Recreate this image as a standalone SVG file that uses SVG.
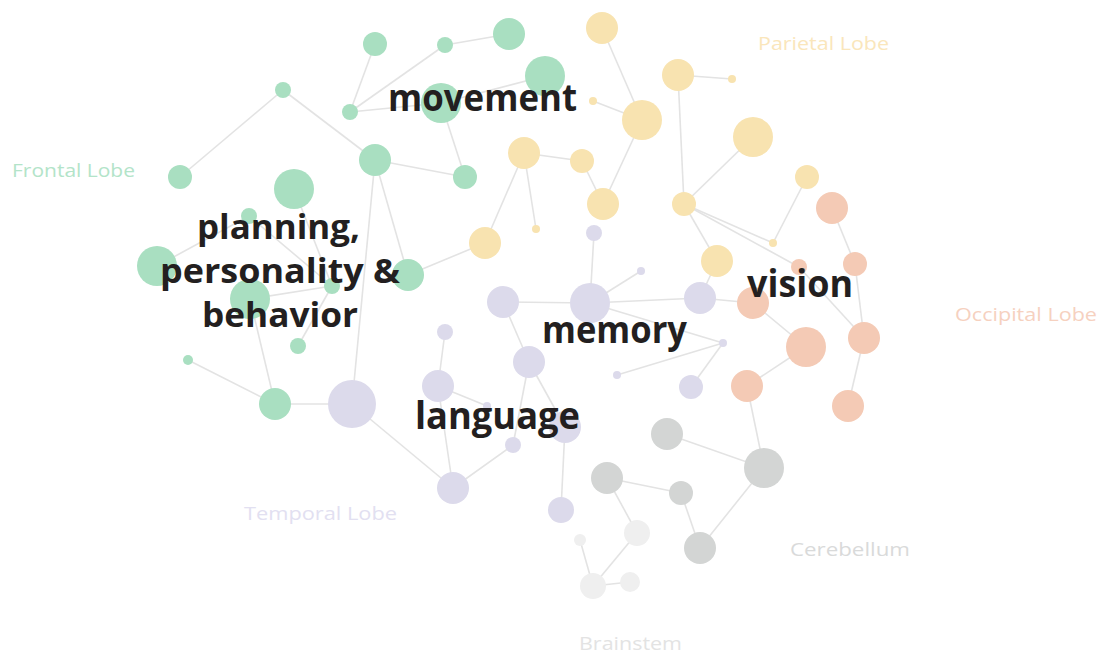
<svg xmlns="http://www.w3.org/2000/svg" width="1101" height="654" viewBox="0 0 1101 654">
<style>
.e{stroke:#e3e3e3;stroke-width:1.6;fill:none}
.g{fill:#a9dfc1}.p{fill:#dcdaeb}.y{fill:#f8e3b0}.o{fill:#f4cab5}.k{fill:#d3d5d4}.l{fill:#efefef}
.lobe{font-family:"Open Sans","Lato",sans-serif;font-size:19px}
.fn{font-family:"Open Sans","Roboto",sans-serif;font-weight:700;font-size:37px;fill:#231f20}
.fs{font-size:34px}
</style>
<rect width="1101" height="654" fill="#ffffff"/>
<g id="connectors" class="e">
<line x1="283" y1="90" x2="180" y2="177"/>
<line x1="283" y1="90" x2="375" y2="160"/>
<line x1="350" y1="112" x2="375" y2="44"/>
<line x1="350" y1="112" x2="445" y2="45"/>
<line x1="445" y1="45" x2="509" y2="34"/>
<line x1="350" y1="112" x2="441" y2="103"/>
<line x1="545" y1="76" x2="441" y2="103"/>
<line x1="441" y1="103" x2="465" y2="177"/>
<line x1="375" y1="160" x2="465" y2="177"/>
<line x1="375" y1="160" x2="408" y2="275"/>
<line x1="375" y1="160" x2="352" y2="404"/>
<line x1="294" y1="189" x2="332" y2="286"/>
<line x1="157" y1="266" x2="249" y2="216"/>
<line x1="249" y1="216" x2="332" y2="286"/>
<line x1="250" y1="299" x2="332" y2="286"/>
<line x1="332" y1="286" x2="298" y2="346"/>
<line x1="250" y1="299" x2="275" y2="404"/>
<line x1="188" y1="360" x2="275" y2="404"/>
<line x1="275" y1="404" x2="352" y2="404"/>
<line x1="408" y1="275" x2="485" y2="243"/>
<line x1="352" y1="404" x2="453" y2="488"/>
<line x1="438" y1="386" x2="453" y2="488"/>
<line x1="453" y1="488" x2="513" y2="445"/>
<line x1="438" y1="386" x2="445" y2="332"/>
<line x1="438" y1="386" x2="487" y2="406"/>
<line x1="503" y1="302" x2="590" y2="303"/>
<line x1="503" y1="302" x2="529" y2="362"/>
<line x1="529" y1="362" x2="513" y2="445"/>
<line x1="529" y1="362" x2="565" y2="427"/>
<line x1="565" y1="427" x2="561" y2="510"/>
<line x1="590" y1="303" x2="594" y2="233"/>
<line x1="590" y1="303" x2="641" y2="271"/>
<line x1="590" y1="303" x2="700" y2="298"/>
<line x1="700" y1="298" x2="753" y2="303"/>
<line x1="700" y1="298" x2="717" y2="261"/>
<line x1="590" y1="303" x2="723" y2="343"/>
<line x1="723" y1="343" x2="617" y2="375"/>
<line x1="723" y1="343" x2="691" y2="387"/>
<line x1="602" y1="28" x2="642" y2="120"/>
<line x1="593" y1="101" x2="642" y2="120"/>
<line x1="642" y1="120" x2="603" y2="204"/>
<line x1="524" y1="153" x2="582" y2="161"/>
<line x1="582" y1="161" x2="603" y2="204"/>
<line x1="524" y1="153" x2="536" y2="229"/>
<line x1="524" y1="153" x2="485" y2="243"/>
<line x1="678" y1="75" x2="732" y2="79"/>
<line x1="678" y1="75" x2="684" y2="204"/>
<line x1="753" y1="137" x2="684" y2="204"/>
<line x1="684" y1="204" x2="717" y2="261"/>
<line x1="684" y1="204" x2="773" y2="243"/>
<line x1="684" y1="204" x2="799" y2="267"/>
<line x1="807" y1="177" x2="773" y2="243"/>
<line x1="832" y1="208" x2="855" y2="264"/>
<line x1="855" y1="264" x2="864" y2="338"/>
<line x1="864" y1="338" x2="848" y2="406"/>
<line x1="799" y1="267" x2="864" y2="338"/>
<line x1="753" y1="303" x2="806" y2="347"/>
<line x1="806" y1="347" x2="747" y2="386"/>
<line x1="747" y1="386" x2="764" y2="468"/>
<line x1="667" y1="434" x2="764" y2="468"/>
<line x1="607" y1="478" x2="681" y2="493"/>
<line x1="681" y1="493" x2="700" y2="548"/>
<line x1="700" y1="548" x2="764" y2="468"/>
<line x1="607" y1="478" x2="637" y2="533"/>
<line x1="637" y1="533" x2="593" y2="586"/>
<line x1="580" y1="540" x2="593" y2="586"/>
<line x1="593" y1="586" x2="630" y2="582"/>
</g>
<g id="G1"><circle class="g" cx="375" cy="44" r="12"/></g>
<g id="G2"><circle class="g" cx="445" cy="45" r="8"/></g>
<g id="G3"><circle class="g" cx="509" cy="34" r="16"/></g>
<g id="G4"><circle class="g" cx="545" cy="76" r="20"/></g>
<g id="G5"><circle class="g" cx="350" cy="112" r="8"/></g>
<g id="G6"><circle class="g" cx="441" cy="103" r="20"/></g>
<g id="G7"><circle class="g" cx="375" cy="160" r="16"/></g>
<g id="G8"><circle class="g" cx="465" cy="177" r="12"/></g>
<g id="G9"><circle class="g" cx="283" cy="90" r="8"/></g>
<g id="G10"><circle class="g" cx="180" cy="177" r="12"/></g>
<g id="G11"><circle class="g" cx="294" cy="189" r="20"/></g>
<g id="G12"><circle class="g" cx="249" cy="216" r="8"/></g>
<g id="G13"><circle class="g" cx="157" cy="266" r="20"/></g>
<g id="G14"><circle class="g" cx="250" cy="299" r="20"/></g>
<g id="G15"><circle class="g" cx="332" cy="286" r="8"/></g>
<g id="G16"><circle class="g" cx="408" cy="275" r="16"/></g>
<g id="G17"><circle class="g" cx="298" cy="346" r="8"/></g>
<g id="G18"><circle class="g" cx="188" cy="360" r="5"/></g>
<g id="G19"><circle class="g" cx="275" cy="404" r="16"/></g>
<g id="P1"><circle class="p" cx="352" cy="404" r="24"/></g>
<g id="P2"><circle class="p" cx="503" cy="302" r="16"/></g>
<g id="P3"><circle class="p" cx="590" cy="303" r="20"/></g>
<g id="P4"><circle class="p" cx="594" cy="233" r="8"/></g>
<g id="P5"><circle class="p" cx="641" cy="271" r="4"/></g>
<g id="P6"><circle class="p" cx="700" cy="298" r="16"/></g>
<g id="P7"><circle class="p" cx="445" cy="332" r="8"/></g>
<g id="P8"><circle class="p" cx="529" cy="362" r="16"/></g>
<g id="P9"><circle class="p" cx="438" cy="386" r="16"/></g>
<g id="P10"><circle class="p" cx="487" cy="406" r="4"/></g>
<g id="P11"><circle class="p" cx="565" cy="427" r="16"/></g>
<g id="P12"><circle class="p" cx="513" cy="445" r="8"/></g>
<g id="P13"><circle class="p" cx="453" cy="488" r="16"/></g>
<g id="P14"><circle class="p" cx="561" cy="510" r="13"/></g>
<g id="P15"><circle class="p" cx="723" cy="343" r="4"/></g>
<g id="P16"><circle class="p" cx="617" cy="375" r="4"/></g>
<g id="P17"><circle class="p" cx="691" cy="387" r="12"/></g>
<g id="Y1"><circle class="y" cx="602" cy="28" r="16"/></g>
<g id="Y2"><circle class="y" cx="678" cy="75" r="16"/></g>
<g id="Y3"><circle class="y" cx="732" cy="79" r="4"/></g>
<g id="Y4"><circle class="y" cx="642" cy="120" r="20"/></g>
<g id="Y5"><circle class="y" cx="753" cy="137" r="20"/></g>
<g id="Y6"><circle class="y" cx="593" cy="101" r="4"/></g>
<g id="Y7"><circle class="y" cx="524" cy="153" r="16"/></g>
<g id="Y8"><circle class="y" cx="582" cy="161" r="12"/></g>
<g id="Y9"><circle class="y" cx="603" cy="204" r="16"/></g>
<g id="Y10"><circle class="y" cx="684" cy="204" r="12"/></g>
<g id="Y11"><circle class="y" cx="536" cy="229" r="4"/></g>
<g id="Y12"><circle class="y" cx="485" cy="243" r="16"/></g>
<g id="Y13"><circle class="y" cx="717" cy="261" r="16"/></g>
<g id="Y14"><circle class="y" cx="807" cy="177" r="12"/></g>
<g id="Y15"><circle class="y" cx="773" cy="243" r="4"/></g>
<g id="O1"><circle class="o" cx="832" cy="208" r="16"/></g>
<g id="O2"><circle class="o" cx="799" cy="267" r="8"/></g>
<g id="O3"><circle class="o" cx="855" cy="264" r="12"/></g>
<g id="O4"><circle class="o" cx="753" cy="303" r="16"/></g>
<g id="O5"><circle class="o" cx="806" cy="347" r="20"/></g>
<g id="O6"><circle class="o" cx="864" cy="338" r="16"/></g>
<g id="O7"><circle class="o" cx="747" cy="386" r="16"/></g>
<g id="O8"><circle class="o" cx="848" cy="406" r="16"/></g>
<g id="K1"><circle class="k" cx="667" cy="434" r="16"/></g>
<g id="K2"><circle class="k" cx="764" cy="468" r="20"/></g>
<g id="K3"><circle class="k" cx="607" cy="478" r="16"/></g>
<g id="K4"><circle class="k" cx="681" cy="493" r="12"/></g>
<g id="K5"><circle class="k" cx="700" cy="548" r="16"/></g>
<g id="L1"><circle class="l" cx="637" cy="533" r="13"/></g>
<g id="L2"><circle class="l" cx="580" cy="540" r="6"/></g>
<g id="L3"><circle class="l" cx="593" cy="586" r="13"/></g>
<g id="L4"><circle class="l" cx="630" cy="582" r="10"/></g>
<g id="lobe-labels" class="lobe">
<text x="12" y="177" fill="#b3e4c9" textLength="123" lengthAdjust="spacingAndGlyphs">Frontal Lobe</text>
<text x="758" y="50" fill="#fae6bb" textLength="131" lengthAdjust="spacingAndGlyphs">Parietal Lobe</text>
<text x="955" y="321" fill="#f6d1bf" textLength="142" lengthAdjust="spacingAndGlyphs">Occipital Lobe</text>
<text x="244" y="520" fill="#e2e0f1" textLength="153" lengthAdjust="spacingAndGlyphs">Temporal Lobe</text>
<text x="790" y="556" fill="#d9dada" textLength="120" lengthAdjust="spacingAndGlyphs">Cerebellum</text>
<text x="579" y="650" fill="#e3e3e3" textLength="103" lengthAdjust="spacingAndGlyphs">Brainstem</text>
</g>
<g id="function-labels" class="fn">
<text x="388" y="111" textLength="189" lengthAdjust="spacingAndGlyphs">movement</text>
<text x="197" y="239" class="fs" textLength="163" lengthAdjust="spacingAndGlyphs">planning,</text>
<text x="160" y="283" class="fs" textLength="240" lengthAdjust="spacingAndGlyphs">personality &amp;</text>
<text x="202" y="327" class="fs" textLength="156" lengthAdjust="spacingAndGlyphs">behavior</text>
<text x="542" y="343" textLength="145" lengthAdjust="spacingAndGlyphs">memory</text>
<text x="415" y="429" textLength="165" lengthAdjust="spacingAndGlyphs">language</text>
<text x="747" y="297" textLength="106" lengthAdjust="spacingAndGlyphs">vision</text>
</g>
</svg>
